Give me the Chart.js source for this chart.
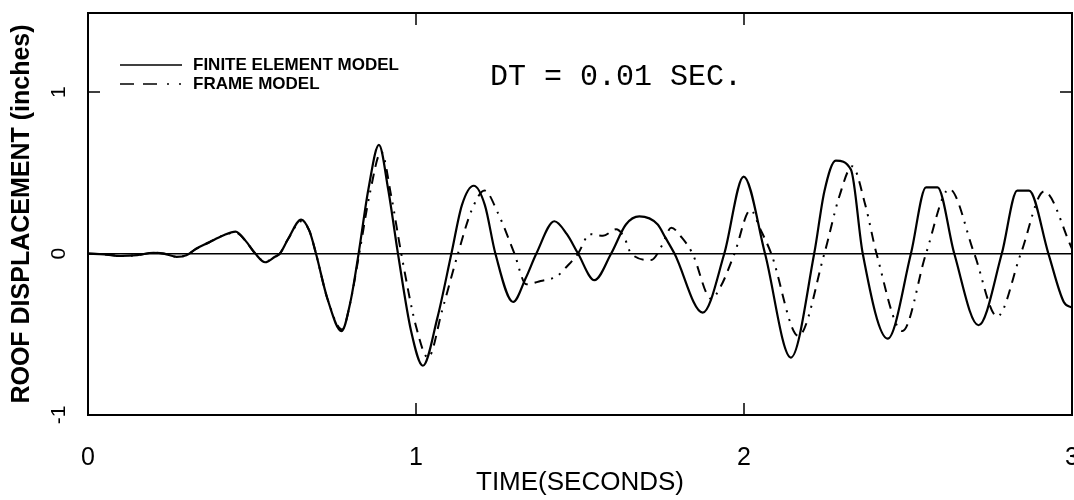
<!DOCTYPE html>
<html>
<head>
<meta charset="utf-8">
<script src="https://cdn.jsdelivr.net/npm/chart.js@4"></script>
<style>
  html, body { margin: 0; padding: 0; background: #fff; }
  #wrap { width: 1074px; height: 500px; }
</style>
</head>
<body>
<div id="wrap"><canvas id="roofChart" width="1074" height="500"></canvas></div>
<script>
// Temps (s) et déplacement (in) - modèle éléments finis
const timeFE = [0, 0.05, 0.1, 0.15, 0.2, 0.23, 0.27, 0.3, 0.33, 0.37, 0.41, 0.45, 0.48, 0.51, 0.54, 0.57, 0.585,
  0.61, 0.65, 0.675, 0.695, 0.73, 0.773, 0.8, 0.825, 0.855, 0.887, 0.915, 0.945, 0.985, 1.021, 1.065, 1.108,
  1.14, 1.176, 1.21, 1.242, 1.296, 1.335, 1.367, 1.422, 1.46, 1.494, 1.544, 1.595, 1.64, 1.681, 1.737, 1.76,
  1.788, 1.874, 1.94, 1.999, 2.064, 2.143, 2.214, 2.245, 2.28, 2.326, 2.362, 2.438, 2.509, 2.555, 2.59, 2.641,
  2.715, 2.786, 2.833, 2.869, 2.928, 2.975, 3.0];
const dispFE = [0, -0.005, -0.015, -0.01, 0.005, 0, -0.02, -0.01, 0.03, 0.07, 0.11, 0.136, 0.08, 0, -0.054, -0.02, 0,
  0.09, 0.21, 0.14, 0, -0.28, -0.48, -0.3, 0, 0.4, 0.673, 0.4, 0, -0.48, -0.695, -0.4, 0,
  0.3, 0.42, 0.3, 0, -0.3, -0.15, 0, 0.2, 0.12, 0, -0.165, 0, 0.18, 0.23, 0.18, 0.1,
  0, -0.366, 0, 0.477, 0, -0.644, 0, 0.385, 0.576, 0.52, 0, -0.527, 0, 0.41, 0.41, 0,
  -0.444, 0, 0.39, 0.39, 0, -0.3, -0.335];

// Modèle portique
const timeFrame = [0, 0.05, 0.1, 0.15, 0.2, 0.23, 0.27, 0.3, 0.33, 0.37, 0.41, 0.45, 0.48, 0.51, 0.54, 0.57, 0.585,
  0.61, 0.65, 0.675, 0.695, 0.73, 0.775, 0.8, 0.827, 0.86, 0.894, 0.925, 0.955, 1.0, 1.037, 1.08, 1.128,
  1.17, 1.209, 1.25, 1.3, 1.336, 1.38, 1.43, 1.46, 1.494, 1.53, 1.57, 1.61, 1.635, 1.656, 1.717, 1.75,
  1.778, 1.81, 1.843, 1.9, 1.93, 1.971, 2.02, 2.05, 2.083, 2.166, 2.245, 2.29, 2.33, 2.37, 2.404, 2.483,
  2.555, 2.626, 2.702, 2.772, 2.844, 2.915, 3.0];
const dispFrame = [0, -0.005, -0.015, -0.01, 0.005, 0, -0.02, -0.01, 0.03, 0.07, 0.11, 0.13, 0.08, 0, -0.05, -0.02, 0,
  0.09, 0.2, 0.14, 0, -0.28, -0.47, -0.3, 0, 0.38, 0.63, 0.35, 0, -0.45, -0.645, -0.35, 0,
  0.27, 0.39, 0.25, 0, -0.19, -0.17, -0.14, -0.08, 0, 0.12, 0.11, 0.15, 0.1, 0, -0.04, 0.05,
  0.16, 0.1, 0, -0.28, -0.2, 0, 0.27, 0.15, 0, -0.51, 0, 0.35, 0.54, 0.3, 0, -0.48,
  0, 0.4, 0, -0.39, 0, 0.385, 0.03];

const xTicks = [0, 1, 2, 3];
const yTicks = [-1, 0, 1];
const seriesLabels = ["FINITE ELEMENT MODEL", "FRAME MODEL"];
const frameDash = [10, 7, 10, 7, 2, 7, 2, 7];

const toPoints = (ts, vs) => ts.map((t, i) => ({ x: t, y: vs[i] }));

// Cadre, graduations intérieures, légende et texte DT
const decorPlugin = {
  id: "decor",
  afterDraw(chart) {
    const { ctx, chartArea: a, scales } = chart;
    const xs = scales.x, ys = scales.y;
    ctx.save();
    ctx.strokeStyle = "#000";
    ctx.lineWidth = 2;
    ctx.setLineDash([]);
    ctx.strokeRect(a.left, a.top, a.right - a.left, a.bottom - a.top);

    ctx.lineWidth = 1.5;
    [1, 2].forEach(v => {
      const px = xs.getPixelForValue(v);
      ctx.beginPath();
      ctx.moveTo(px, a.bottom); ctx.lineTo(px, a.bottom - 12);
      ctx.moveTo(px, a.top); ctx.lineTo(px, a.top + 12);
      ctx.stroke();
    });
    const py = ys.getPixelForValue(1);
    ctx.beginPath();
    ctx.moveTo(a.left, py); ctx.lineTo(a.left + 12, py);
    ctx.moveTo(a.right, py); ctx.lineTo(a.right - 12, py);
    ctx.stroke();

    // légende
    ctx.lineWidth = 1.6;
    ctx.beginPath();
    ctx.moveTo(120, 65); ctx.lineTo(182, 65);
    ctx.stroke();
    ctx.setLineDash([14, 9, 14, 10, 2, 10, 2, 10]);
    ctx.beginPath();
    ctx.moveTo(120, 84); ctx.lineTo(184, 84);
    ctx.stroke();
    ctx.setLineDash([]);
    ctx.fillStyle = "#000";
    ctx.font = "bold 17px 'Liberation Sans Narrow', 'Liberation Sans', sans-serif";
    ctx.textBaseline = "middle";
    ctx.textAlign = "left";
    ctx.fillText(seriesLabels[0], 193, 65);
    ctx.fillText(seriesLabels[1], 193, 84);

    ctx.font = "30px 'Liberation Mono', 'DejaVu Sans Mono', monospace";
    ctx.fillText("DT = 0.01 SEC.", 490, 77);
    ctx.restore();
  }
};

new Chart(document.getElementById("roofChart"), {
  type: "line",
  data: {
    datasets: [{
      label: seriesLabels[0],
      data: toPoints(timeFE, dispFE),
      borderColor: "#000",
      borderWidth: 2.2,
      pointRadius: 0,
      cubicInterpolationMode: "monotone",
      fill: false
    }, {
      label: seriesLabels[1],
      data: toPoints(timeFrame, dispFrame),
      borderColor: "#000",
      borderWidth: 2,
      borderDash: frameDash,
      pointRadius: 0,
      cubicInterpolationMode: "monotone",
      fill: false
    }]
  },
  options: {
    responsive: false,
    animation: false,
    events: [],
    layout: { padding: { top: 13, right: 2, left: 0, bottom: 0 } },
    plugins: { legend: { display: false }, tooltip: { enabled: false } },
    scales: {
      x: {
        type: "linear",
        min: 0,
        max: 3,
        afterBuildTicks: s => { s.ticks = xTicks.map(v => ({ value: v })); },
        afterFit: s => { s.height = 85; s.paddingLeft = 0; s.paddingRight = 0; },
        grid: { display: false, drawTicks: false },
        border: { display: false },
        ticks: {
          color: "#000",
          padding: 28,
          maxRotation: 0,
          font: { family: "'Liberation Sans', sans-serif", size: 25 }
        },
        title: {
          display: true,
          text: "TIME(SECONDS)",
          color: "#000",
          padding: { top: 0, bottom: 2 },
          font: { family: "'Liberation Sans Narrow', 'Liberation Sans', sans-serif", size: 26 }
        }
      },
      y: {
        min: -1,
        max: 1.49,
        afterBuildTicks: s => { s.ticks = yTicks.map(v => ({ value: v })); },
        afterFit: s => { s.width = 88; s.paddingTop = 0; s.paddingBottom = 0; },
        grid: {
          drawTicks: false,
          color: c => (c.tick && c.tick.value === 0 ? "#000" : "rgba(0,0,0,0)"),
          lineWidth: 1.5
        },
        border: { display: false },
        ticks: {
          color: "#000",
          padding: 19,
          minRotation: 90,
          maxRotation: 90,
          crossAlign: "center",
          font: { family: "'Liberation Sans', sans-serif", size: 21 }
        },
        title: {
          display: true,
          text: "ROOF DISPLACEMENT (inches)",
          color: "#000",
          padding: { top: 7, bottom: 0 },
          font: { family: "'Liberation Sans', sans-serif", size: 25, weight: "bold" }
        }
      }
    }
  },
  plugins: [decorPlugin]
});
</script>
</body>
</html>
